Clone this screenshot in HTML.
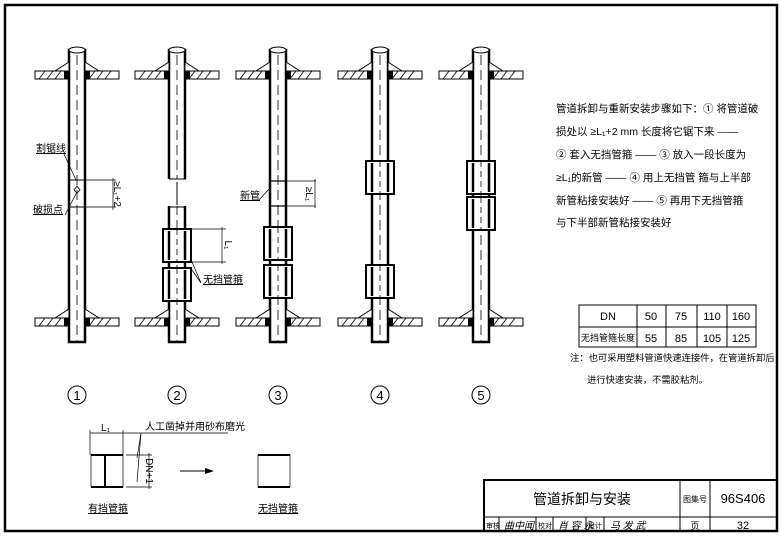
<!DOCTYPE html>
<html><head><meta charset="utf-8"><style>
body{margin:0;background:#fff}
svg{display:block;font-family:"Liberation Sans","Noto Sans CJK SC",sans-serif}
</style></head><body>
<svg width="781" height="537" viewBox="0 0 781 537" xmlns="http://www.w3.org/2000/svg">
<defs>
<g id="slab">
 <rect x="-42" y="71" width="34" height="8" fill="#fff" stroke="#000" stroke-width="1"/>
 <rect x="8" y="71" width="34" height="8" fill="#fff" stroke="#000" stroke-width="1"/>
 <path d="M-38 79l6-8M-30 79l6-8M-22 79l6-8M12 79l6-8M20 79l6-8M28 79l6-8" stroke="#000" stroke-width="0.8"/>
 <path d="M-8 62L-22 71H-8Z M8 62L22 71H8Z" fill="#fff" stroke="#000" stroke-width="1"/>
 <rect x="-13" y="71" width="5" height="8" fill="#000"/><rect x="8" y="71" width="5" height="8" fill="#000"/>
</g>
<g id="pipe">
 <rect x="-8" y="50" width="16" height="292" fill="#fff" stroke="#000" stroke-width="2.5"/>
 <ellipse cx="0" cy="50" rx="8" ry="3" fill="#fff" stroke="#000" stroke-width="1"/>
 <line x1="0" y1="55" x2="0" y2="342" stroke="#000" stroke-width="0.8" stroke-dasharray="10,5"/>
 <use href="#slab"/><use href="#slab" y="247"/>
</g>
<g id="cpl">
 <rect x="-14" y="0" width="28" height="33" fill="#fff" stroke="#000" stroke-width="2"/>
 <line x1="0" y1="0" x2="0" y2="33" stroke="#000" stroke-width="0.8" stroke-dasharray="6,4"/>
 <path d="M-8 2v29M8 2v29" stroke="#000" stroke-width="2.5"/>
</g>
</defs>
<rect x="5" y="5" width="772" height="526" fill="none" stroke="#000" stroke-width="2.5"/>
<use href="#pipe" x="77"/><use href="#pipe" x="177"/><use href="#pipe" x="278"/><use href="#pipe" x="380"/><use href="#pipe" x="481"/>
<!-- pipe1 -->
<path d="M69 180H86M69 207H86" stroke="#000" stroke-width="1"/>
<path d="M77 186l3 4-3 3-3-3z" fill="none" stroke="#000" stroke-width="0.8"/>
<path d="M86 180H116M86 207H116M113 178V210" stroke="#000" stroke-width="0.7"/>
<text transform="translate(114,194) rotate(90)" font-size="10" text-anchor="middle">≥L₁+2</text>
<text x="36" y="152" font-size="10" text-decoration="underline">割锯线</text>
<path d="M64 154L76 180" stroke="#000" stroke-width="0.7"/>
<text x="33" y="213" font-size="10" text-decoration="underline">破损点</text>
<path d="M65 215L77 192" stroke="#000" stroke-width="0.7"/>
<!-- pipe2 -->
<rect x="166" y="179" width="22" height="27" fill="#fff"/>
<path d="M169 179H186M169 207H186M177 182V205" stroke="#000" stroke-width="1"/>
<use href="#cpl" x="177" y="229"/><use href="#cpl" x="177" y="268"/>
<path d="M192 229H226M192 262H226M222 227V264" stroke="#000" stroke-width="0.7"/>
<text transform="translate(225,245) rotate(90)" font-size="10" text-anchor="middle">L₁</text>
<text x="203" y="283" font-size="10" text-decoration="underline">无挡管箍</text>
<path d="M192 262L201 283M192 270L201 283" stroke="#000" stroke-width="0.7"/>
<!-- pipe3 -->
<path d="M270 181H287M270 206H287" stroke="#000" stroke-width="1.2"/>
<path d="M287 181H316M287 206H316M315 179V208" stroke="#000" stroke-width="0.7"/>
<text transform="translate(306,194) rotate(90)" font-size="10" text-anchor="middle">≥L₁</text>
<text x="240" y="199" font-size="10" text-decoration="underline">新管</text>
<path d="M258 201L270 188" stroke="#000" stroke-width="0.7"/>
<use href="#cpl" x="278" y="227"/><use href="#cpl" x="278" y="265"/>
<!-- pipe4 -->
<use href="#cpl" x="380" y="161"/><use href="#cpl" x="380" y="265"/>
<!-- pipe5 -->
<use href="#cpl" x="481" y="161"/><use href="#cpl" x="481" y="197"/>
<g fill="none" stroke="#000" stroke-width="1">
<circle cx="77" cy="395" r="9"/><circle cx="177" cy="395" r="9"/><circle cx="278" cy="395" r="9"/><circle cx="380" cy="395" r="9"/><circle cx="481" cy="395" r="9"/>
</g>
<g font-size="13" text-anchor="middle">
<text x="77" y="400">1</text><text x="177" y="400">2</text><text x="278" y="400">3</text><text x="380" y="400">4</text><text x="481" y="400">5</text>
</g>
<!-- text -->
<g font-size="10.5">
<text x="556" y="112">管道拆卸与重新安装步骤如下：① 将管道破</text>
<text x="556" y="135">损处以 ≥L₁+2 mm 长度将它锯下来 ——</text>
<text x="556" y="158">② 套入无挡管箍 —— ③ 放入一段长度为</text>
<text x="556" y="181">≥L₁的新管 —— ④ 用上无挡管 箍与上半部</text>
<text x="556" y="204">新管粘接安装好 —— ⑤ 再用下无挡管箍</text>
<text x="556" y="226">与下半部新管粘接安装好</text>
</g>
<!-- table -->
<g stroke="#000" stroke-width="1" fill="none">
<rect x="579" y="305" width="177" height="42"/>
<path d="M579 327H756M637 305V347M666 305V347M697 305V347M727 305V347"/>
</g>
<g font-size="11" text-anchor="middle">
<text x="608" y="320">DN</text><text x="651" y="320">50</text><text x="681" y="320">75</text><text x="712" y="320">110</text><text x="741" y="320">160</text>
<text x="608" y="341" font-size="9">无挡管箍长度</text><text x="651" y="342">55</text><text x="681" y="342">85</text><text x="712" y="342">105</text><text x="741" y="342">125</text>
</g>
<text x="570" y="361" font-size="9.3">注：也可采用塑料管道快速连接件，在管道拆卸后，</text>
<text x="587" y="383" font-size="9.3">进行快速安装，不需胶粘剂。</text>
<!-- bottom coupling -->
<g stroke="#000" fill="none" stroke-width="0.7">
<path d="M90 433H123M90 430V455M123 430V455M126 455H152M126 487H152M149 453V489M122 433L143 433M137 458L141 433M137 482L141 433M141 433H228"/>
<rect x="91" y="455" width="32" height="32"/>
<path d="M91 455H123M91 487H123M105 455V487" stroke-width="2"/>
<path d="M258 455H290M258 487H290" stroke-width="2"/>
<rect x="258" y="455" width="32" height="32"/>
<path d="M180 471H205" stroke-width="1"/>
</g>
<path d="M205 468l9 3-9 3z" fill="#000"/>
<text x="101" y="431" font-size="10">L₁</text>
<text x="145" y="430" font-size="10">人工凿掉并用砂布磨光</text>
<text transform="translate(146,471) rotate(90)" font-size="10" text-anchor="middle">DN+1</text>
<text x="88" y="512" font-size="10" text-decoration="underline">有挡管箍</text>
<text x="258" y="512" font-size="10" text-decoration="underline">无挡管箍</text>
<!-- title block -->
<g stroke="#000" fill="none">
<rect x="484" y="480" width="293" height="51" stroke-width="2"/>
<path d="M484 517H777M680 480V531M710 480V531M499 517V531M536 517V531M553 517V531M586 517V531M604 517V531" stroke-width="1"/>
</g>
<text x="582" y="504" font-size="14" text-anchor="middle">管道拆卸与安装</text>
<text x="695" y="502" font-size="8" text-anchor="middle">图集号</text>
<text x="743" y="503" font-size="13" text-anchor="middle">96S406</text>
<g font-size="7"><text x="486" y="528">审核</text><text x="538" y="528">校对</text><text x="588" y="528">设计</text></g>
<g font-size="10" font-style="italic"><text x="504" y="529">曲中闻</text><text x="558" y="529">肖 容 永</text><text x="610" y="529">马 发 武</text></g>
<text x="695" y="529" font-size="9" text-anchor="middle">页</text>
<text x="743" y="529" font-size="11" text-anchor="middle">32</text>
</svg>
</body></html>
